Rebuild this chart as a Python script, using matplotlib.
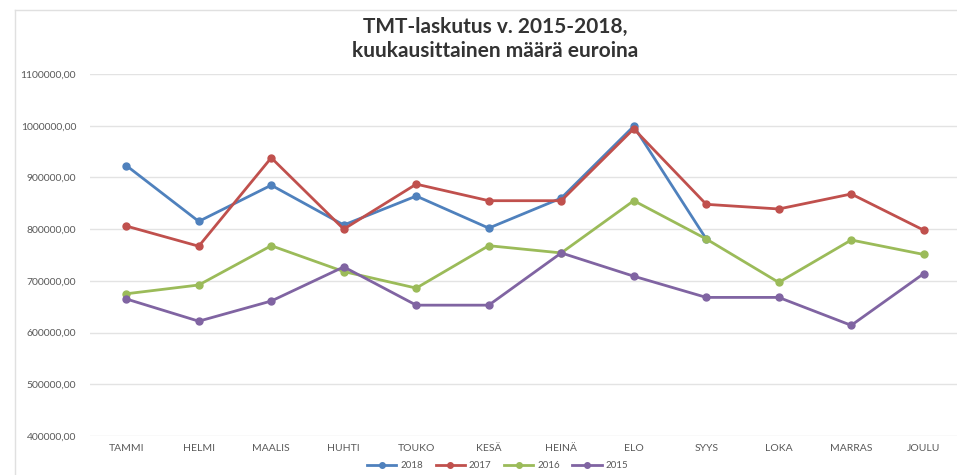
import matplotlib.pyplot as plt
from matplotlib.lines import Line2D

months = ["TAMMI", "HELMI", "MAALIS", "HUHTI", "TOUKO", "KESÄ",
          "HEINÄ", "ELO", "SYYS", "LOKA", "MARRAS", "JOULU"]
years = ["2018", "2017", "2016", "2015"]
v2018 = [923000, 815000, 885000, 808000, 864000, 802000, 860000, 999000, 781000]
v2017 = [806000, 767000, 938000, 800000, 887000, 855000, 855000, 994000, 848000, 839000, 868000, 798000]
v2016 = [675000, 692000, 768000, 718000, 686000, 768000, 754000, 855000, 781000, 697000, 779000, 751000]
v2015 = [665000, 622000, 661000, 727000, 653000, 653000, 754000, 709000, 668000, 668000, 614000, 714000]
colors = ["#4F81BD", "#C0504D", "#9BBB59", "#8064A2"]

plt.rcParams['font.family'] = ['Lato', 'DejaVu Sans']

fig = plt.figure(figsize=(9.57, 4.75), dpi=100)
ax = fig.add_axes([90 / 957, 1 - 436 / 475, 870 / 957, (436 - 74) / 475])

for vals, c, lab in zip([v2018, v2017, v2016, v2015], colors, years):
    ax.plot(range(len(vals)), vals, color=c, lw=2, marker='o', ms=5, label=lab)

ax.set_xlim(-0.5, 11.5)
ax.set_ylim(400000, 1100000)
ax.set_yticks(range(400000, 1100001, 100000))
ax.set_yticklabels(["%d,00" % v for v in range(400000, 1100001, 100000)])
ax.set_xticks(range(12))
ax.set_xticklabels(months)
ax.tick_params(length=0, labelsize=7.5, labelcolor="#595959")
ax.tick_params(axis='y', pad=10)
ax.tick_params(axis='x', pad=6)
ax.grid(axis='y', color="#e3e3e3", lw=1)
ax.set_axisbelow(True)
for s in ax.spines.values():
    s.set_visible(False)

fig.text(0.517, 1 - 39 / 475, "TMT-laskutus v. 2015-2018,\nkuukausittainen määrä euroina",
         ha='center', va='center', fontsize=15, fontweight='bold', color="#333333",
         linespacing=1.2)

handles = [Line2D([], [], color=c, lw=2, marker='o', ms=4) for c in colors]
fig.legend(handles, years, loc='center', bbox_to_anchor=(0.52, 1 - 466 / 475), ncol=4,
           frameon=False, fontsize=7, labelcolor="#595959", handlelength=3,
           columnspacing=1.3, handletextpad=0.4)

# chart frame edges
fig.add_artist(Line2D([15 / 957, 15 / 957], [0, 1 - 10 / 475], color="#e0e0e0", lw=1))
fig.add_artist(Line2D([15 / 957, 1], [1 - 10 / 475, 1 - 10 / 475], color="#e0e0e0", lw=1))

fig.savefig("out.png", dpi=100)
